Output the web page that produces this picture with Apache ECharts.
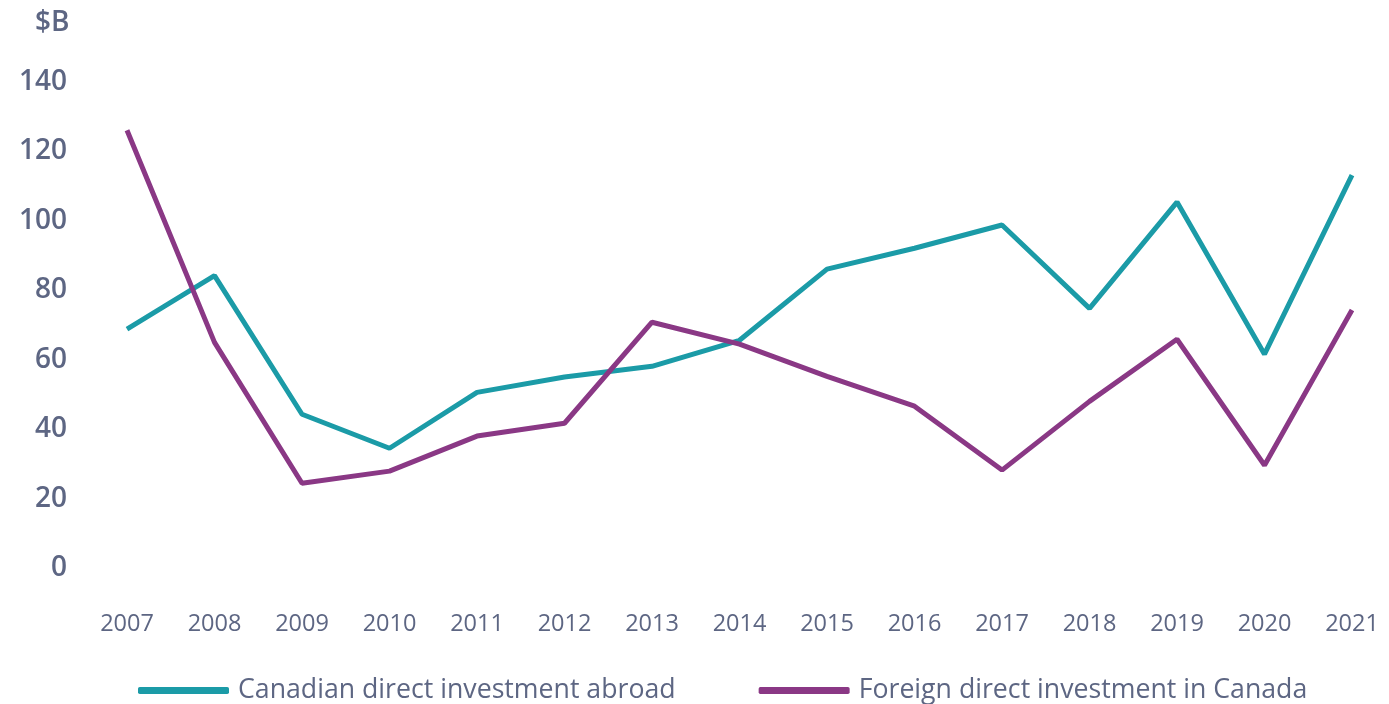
<!DOCTYPE html>
<html>
<head>
<meta charset="utf-8">
<script src="https://cdn.jsdelivr.net/npm/echarts@6/dist/echarts.min.js"></script>
<style>
  html, body { margin: 0; padding: 0; background: #fff; }
  #chart { width: 1389px; height: 704px; }
</style>
</head>
<body>
<div id="chart"></div>
<script>
// values in $B
var years = ['2007','2008','2009','2010','2011','2012','2013','2014','2015','2016','2017','2018','2019','2020','2021'];
var cdiaAbroad = [68.8, 84.2, 44.3, 34.5, 50.6, 55, 58.1, 65.6, 86.1, 92.1, 98.8, 74.8, 105.4, 61.6, 113.2];
var fdiCanada = [126.1, 65, 24.4, 27.9, 38, 41.7, 70.8, 64.5, 55.2, 46.6, 28.2, 48, 65.9, 29.6, 74.3];
var seriesNames = ['Canadian direct investment abroad', 'Foreign direct investment in Canada'];

var textColor = '#5d6683';
var font = '"Open Sans", Lato, sans-serif';

var myChart = echarts.init(document.getElementById('chart'));
myChart.setOption({
    animation: false,
    title: {
        text: '$B',
        left: 30,
        top: 4,
        textStyle: { color: textColor, fontSize: 28, fontWeight: 600, fontFamily: font }
    },
    legend: {
        left: 133,
        top: 672,
        icon: 'roundRect',
        itemWidth: 91,
        itemHeight: 7,
        itemGap: 83,
        textStyle: { color: textColor, fontSize: 26.7, fontFamily: font, padding: [0, 0, 0, 4] },
        data: seriesNames
    },
    grid: { left: 127, right: 37, top: 82, bottom: 136 },
    xAxis: {
        type: 'category',
        data: years,
        boundaryGap: false,
        axisLine: { show: false },
        axisTick: { show: false },
        axisLabel: { color: textColor, fontSize: 23.5, fontFamily: font, margin: 44 }
    },
    yAxis: {
        type: 'value',
        min: 0,
        max: 140,
        interval: 20,
        splitLine: { show: false },
        axisLine: { show: false },
        axisTick: { show: false },
        axisLabel: { color: textColor, fontSize: 28, fontWeight: 600, fontFamily: font, margin: 60 }
    },
    series: [
        {
            name: seriesNames[0],
            type: 'line',
            data: cdiaAbroad,
            symbol: 'none',
            lineStyle: { color: '#1b9ba7', width: 5 },
            itemStyle: { color: '#1b9ba7' }
        },
        {
            name: seriesNames[1],
            type: 'line',
            data: fdiCanada,
            symbol: 'none',
            lineStyle: { color: '#8a3885', width: 5 },
            itemStyle: { color: '#8a3885' }
        }
    ]
});
window.onresize = myChart.resize;
</script>
</body>
</html>
